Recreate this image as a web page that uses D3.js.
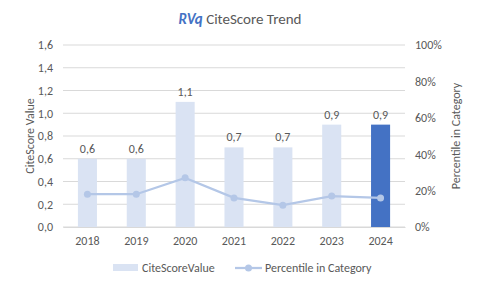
<!DOCTYPE html>
<html>
<head>
<meta charset="utf-8">
<script src="https://cdn.jsdelivr.net/npm/d3@7"></script>
<style>
  body { margin: 0; background: #fff; }
  text { font-family: Carlito, "Open Sans", "Noto Sans", sans-serif; fill: #595959; }
</style>
</head>
<body>
<div id="chart"></div>
<script>
// data
const years = ["2018", "2019", "2020", "2021", "2022", "2023", "2024"];
const citeScore = [0.6, 0.6, 1.1, 0.7, 0.7, 0.9, 0.9];
const percentile = [18, 18, 27, 16, 12, 17, 16];
const leftTicks = [0, 0.2, 0.4, 0.6, 0.8, 1.0, 1.2, 1.4, 1.6];
const rightTicks = [0, 20, 40, 60, 80, 100];

const W = 480, H = 288;
const margin = { top: 45, right: 75, bottom: 61, left: 63 };
const width = W - margin.left - margin.right;
const height = H - margin.top - margin.bottom;

const svg = d3.select("#chart").append("svg")
    .attr("width", W)
    .attr("height", H);

const g = svg.append("g")
    .attr("transform", `translate(${margin.left},${margin.top})`);

const x = d3.scaleBand().domain(years).range([0, width]).paddingInner(0.61).paddingOuter(0.305);
const y = d3.scaleLinear().domain([0, 1.6]).range([height, 0]);
const y2 = d3.scaleLinear().domain([0, 100]).range([height, 0]);
const fmt = d => d3.format(".1f")(d).replace(".", ",");

// gridlines
g.selectAll(".grid").data(leftTicks).enter().append("line")
    .attr("x1", 0).attr("x2", width)
    .attr("y1", d => y(d)).attr("y2", d => y(d))
    .attr("stroke", "#d9d9d9").attr("stroke-width", 1);

// left axis
const yAxis = d3.axisLeft(y).tickValues(leftTicks).tickFormat(fmt).tickSize(0).tickPadding(10);
g.append("g").call(yAxis)
    .call(a => a.select(".domain").remove())
    .selectAll("text").style("font-size", "12px").attr("fill", "#595959");

// right axis
const yAxis2 = d3.axisRight(y2).tickValues(rightTicks).tickFormat(d => d + "%").tickSize(0).tickPadding(10);
g.append("g").attr("transform", `translate(${width},0)`).call(yAxis2)
    .call(a => a.select(".domain").remove())
    .selectAll("text").style("font-size", "12px").attr("fill", "#595959");

// x axis
const xAxis = d3.axisBottom(x).tickSize(0).tickPadding(9);
g.append("g").attr("transform", `translate(0,${height})`).call(xAxis)
    .call(a => a.select(".domain").attr("stroke", "#d9d9d9"))
    .selectAll("text").style("font-size", "12px").attr("fill", "#595959");

// bars
g.selectAll(".bar").data(citeScore).enter().append("rect")
    .attr("class", "bar")
    .attr("x", (d, i) => x(years[i]))
    .attr("width", x.bandwidth())
    .attr("y", d => y(d))
    .attr("height", d => height - y(d))
    .attr("fill", (d, i) => i === years.length - 1 ? "#4472c4" : "#dae3f3");

// bar labels
g.selectAll(".lbl").data(citeScore).enter().append("text")
    .attr("x", (d, i) => x(years[i]) + x.bandwidth() / 2)
    .attr("y", d => y(d) - 6)
    .attr("text-anchor", "middle")
    .style("font-size", "12px")
    .text(fmt);

// percentile line
const line = d3.line()
    .x((d, i) => x(years[i]) + x.bandwidth() / 2)
    .y(d => y2(d));
g.append("path").datum(percentile)
    .attr("d", line)
    .attr("fill", "none")
    .attr("stroke", "#b4c7e7")
    .attr("stroke-width", 2.25);
g.selectAll(".pt").data(percentile).enter().append("circle")
    .attr("cx", (d, i) => x(years[i]) + x.bandwidth() / 2)
    .attr("cy", d => y2(d))
    .attr("r", 3.5)
    .attr("fill", "#b4c7e7");

// title
const title = svg.append("text")
    .attr("x", 240).attr("y", 24)
    .attr("text-anchor", "middle")
    .style("font-size", "15px");
title.append("tspan").text("RVq")
    .style("font-weight", "bold").style("font-style", "italic").attr("fill", "#4472c4");
title.append("tspan").text(" CiteScore Trend");

// axis titles
svg.append("text")
    .attr("transform", `translate(34,${margin.top + height / 2}) rotate(-90)`)
    .attr("text-anchor", "middle")
    .style("font-size", "12px")
    .text("CiteScore Value");
svg.append("text")
    .attr("transform", `translate(460,${margin.top + height / 2}) rotate(-90)`)
    .attr("text-anchor", "middle")
    .style("font-size", "12px")
    .text("Percentile in Category");

// legend
const leg = svg.append("g").attr("transform", "translate(113,268)");
leg.append("rect").attr("x", 0).attr("y", -4).attr("width", 25).attr("height", 7).attr("fill", "#dae3f3");
leg.append("text").attr("x", 29).attr("y", 4).style("font-size", "12px").text("CiteScoreValue");
leg.append("line").attr("x1", 122).attr("x2", 149).attr("y1", 0).attr("y2", 0)
    .attr("stroke", "#b4c7e7").attr("stroke-width", 2.25);
leg.append("circle").attr("cx", 135.5).attr("cy", 0).attr("r", 3.5).attr("fill", "#b4c7e7");
leg.append("text").attr("x", 152).attr("y", 4).style("font-size", "12px").text("Percentile in Category");
</script>
</body>
</html>
